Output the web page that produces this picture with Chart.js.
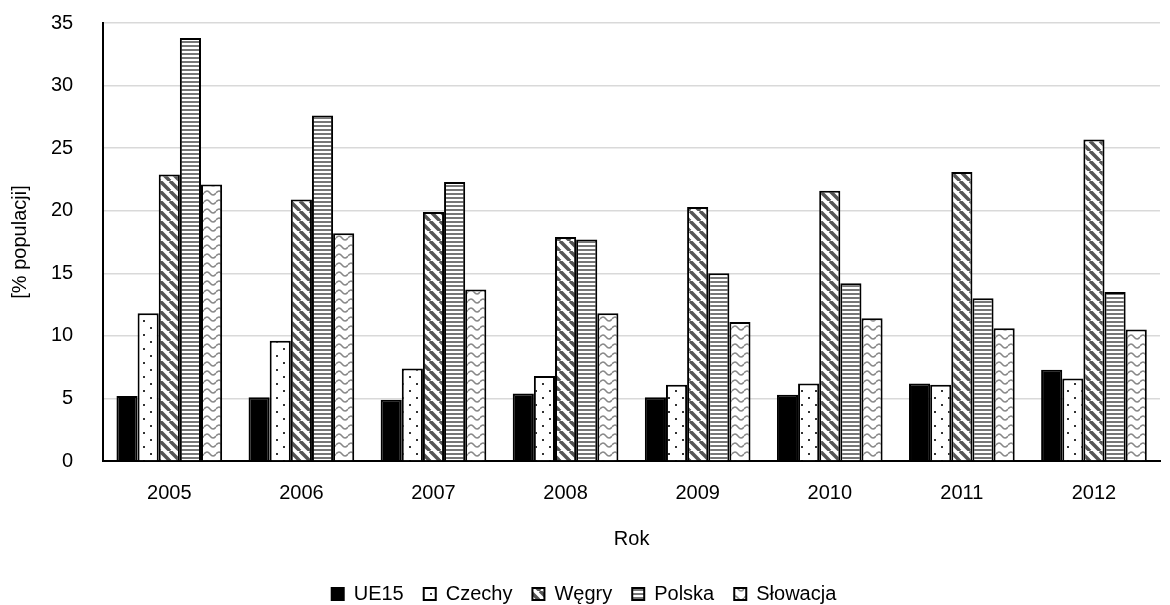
<!DOCTYPE html>
<html lang="pl">
<head>
<meta charset="utf-8">
<title>Wykres</title>
<script src="https://cdn.jsdelivr.net/npm/chart.js@4"></script>
<style>
    html, body { margin: 0; padding: 0; background: #fff; }
    #wrap { width: 1170px; height: 605px; overflow: hidden; }
    #box { width: 1170px; height: 633px; margin-top: -19px; }
</style>
</head>
<body>
<div id="wrap"><div id="box"><canvas id="wykres"></canvas></div></div>
<script>
const lata = ["2005", "2006", "2007", "2008", "2009", "2010", "2011", "2012"];
const ue15 = [5.2, 5.1, 4.9, 5.4, 5.1, 5.3, 6.2, 7.3];
const czechy = [11.8, 9.6, 7.4, 6.8, 6.1, 6.2, 6.1, 6.6];
const wegry = [22.9, 20.9, 19.9, 17.9, 20.3, 21.6, 23.1, 25.7];
const polska = [33.8, 27.6, 22.3, 17.7, 15.0, 14.2, 13.0, 13.5];
const slowacja = [22.1, 18.2, 13.7, 11.8, 11.1, 11.4, 10.6, 10.5];
const yTicks = [0, 5, 10, 15, 20, 25, 30, 35];

document.addEventListener("DOMContentLoaded", function() {
    const ctx = document.getElementById("wykres").getContext("2d");

    // wzory wypełnienia słupków
    function wzor(w, h, rysuj) {
        const c = document.createElement("canvas");
        c.width = w;
        c.height = h;
        const g = c.getContext("2d");
        g.fillStyle = "#fff";
        g.fillRect(0, 0, w, h);
        rysuj(g);
        return ctx.createPattern(c, "repeat");
    }

    const kropki = wzor(14, 14, g => {
        g.fillStyle = "#333";
        g.fillRect(3, 3, 2, 2);
        g.fillRect(10, 10, 2, 2);
    });

    const ukosne = wzor(10, 10, g => {
        g.strokeStyle = "#555";
        g.lineWidth = 3.5;
        for (let i = -10; i <= 20; i += 10) {
            g.beginPath();
            g.moveTo(i, 0);
            g.lineTo(i + 10, 10);
            g.stroke();
        }
    });

    const poziome = wzor(4, 4, g => {
        g.fillStyle = "#777";
        g.fillRect(0, 0, 4, 2);
    });

    const fale = wzor(12, 9, g => {
        g.strokeStyle = "#888";
        g.lineWidth = 1.5;
        g.beginPath();
        g.moveTo(0, 5);
        g.quadraticCurveTo(3, 1, 6, 5);
        g.quadraticCurveTo(9, 9, 12, 5);
        g.stroke();
    });

    Chart.defaults.font.family = "'Liberation Sans', Arial, sans-serif";
    Chart.defaults.font.size = 20;
    Chart.defaults.color = "#000";

    new Chart(ctx, {
        type: "bar",
        data: {
            labels: lata,
            datasets: [
                { label: "UE15", data: ue15, backgroundColor: "#000" },
                { label: "Czechy", data: czechy, backgroundColor: kropki },
                { label: "Węgry", data: wegry, backgroundColor: ukosne },
                { label: "Polska", data: polska, backgroundColor: poziome },
                { label: "Słowacja", data: slowacja, backgroundColor: fale }
            ].map(ds => Object.assign(ds, {
                borderColor: "#000",
                borderWidth: 2,
                categoryPercentage: 0.8,
                barPercentage: 1
            }))
        },
        options: {
            responsive: true,
            maintainAspectRatio: false,
            animation: false,
            layout: { padding: { left: 8, right: 10, top: 0, bottom: 0 } },
            plugins: {
                tooltip: { enabled: false },
                legend: {
                    position: "bottom",
                    labels: {
                        boxWidth: 12,
                        boxHeight: 12,
                        padding: 20
                    }
                }
            },
            scales: {
                x: {
                    grid: { display: false },
                    border: { color: "#000", width: 2 },
                    ticks: { padding: 12 },
                    title: { display: true, text: "Rok", padding: { top: 10, bottom: 13 } }
                },
                y: {
                    min: 0,
                    max: 35,
                    afterBuildTicks: axis => { axis.ticks = yTicks.map(v => ({ value: v })); },
                    grid: { color: "#d9d9d9", lineWidth: 1.5, drawTicks: false },
                    border: { color: "#000", width: 2 },
                    ticks: { padding: 30 },
                    title: { display: true, text: "[% populacji]", padding: { top: 0, bottom: -11 } }
                }
            }
        }
    });
});
</script>
</body>
</html>
